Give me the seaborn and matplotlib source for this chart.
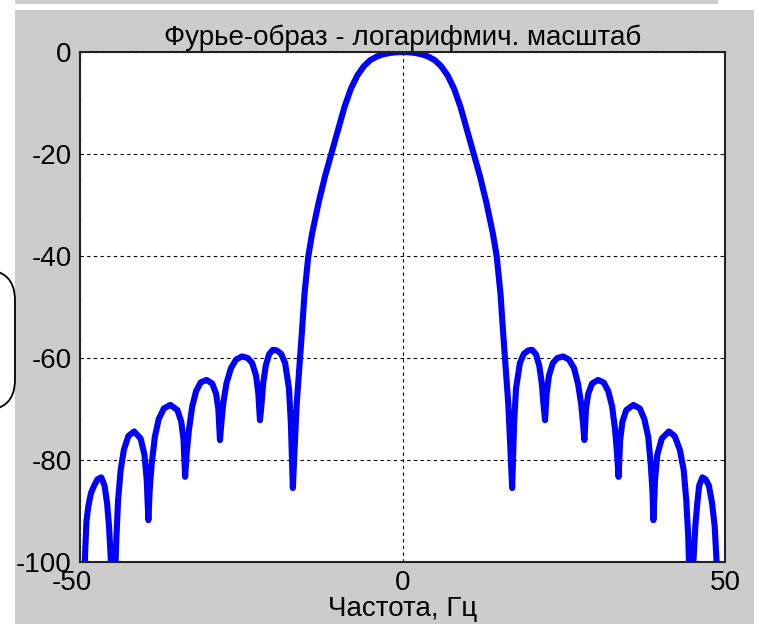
import matplotlib
matplotlib.use("Agg")
import matplotlib.pyplot as plt
import seaborn as sns
import pandas as pd
from matplotlib.patches import Rectangle, FancyBboxPatch
from matplotlib.transforms import ScaledTranslation

# ---- data (frequency in Hz, level in dB) ----
freq_left = [-49.4, -49.2, -49.0, -48.7, -48.3, -47.8, -47.3, -46.7, -46.2, -45.8, -45.5, -45.2,
             -44.7, -44.35, -44.1, -43.7, -43.2, -42.5, -41.6, -40.6, -40.0, -39.65,
             -39.4, -39.2, -38.9, -38.4, -37.8, -37.0, -36.0, -34.9, -34.3, -33.95,
             -33.7, -33.45, -33.1, -32.6, -32.0, -31.3, -30.4, -29.5, -28.9, -28.55,
             -28.3, -28.1, -27.8, -27.3, -26.6, -25.8, -24.9, -24.0, -23.3, -22.7, -22.35,
             -22.1, -21.85, -21.6, -21.2, -20.7, -20.1, -19.5, -18.8, -18.2, -17.6, -17.3,
             -17.0, -16.7, -16.4, -16.0, -15.6, -15.2, -14.6, -14.0, -13.0, -12.0, -11.0,
             -10.0, -9.0, -8.0, -7.0, -6.0, -5.0, -4.0, -3.0, -2.0, -1.0]
level_left = [-108, -98, -92, -89, -86.5, -85, -83.8, -83.4, -85, -88.5, -93, -100,
              -108, -95, -88, -82, -78, -75.3, -74.4, -75.8, -79, -84,
              -91.8, -86, -81, -75.5, -72, -69.9, -69.2, -70.2, -72.5, -76,
              -83.3, -78.5, -74, -69.5, -66.5, -64.8, -64.3, -65, -67, -70,
              -76.1, -73, -69, -65, -62, -60.3, -59.7, -60, -61, -63.5, -67,
              -72.2, -69, -65, -61.5, -59.3, -58.4, -58.5, -59.2, -61, -66, -73,
              -85.5, -77, -69, -62, -55, -47.5, -40, -35.5, -29.5, -24.3, -19.8,
              -15.3, -10.8, -7.2, -4.6, -2.8, -1.6, -0.9, -0.45, -0.2, -0.05]
freq_mid = [0.0]
level_mid = [0.0]
freq_right = [1.0, 2.0, 3.0, 4.0, 5.0, 6.0, 7.0, 8.0, 9.0, 10.0,
              11.0, 12.0, 13.0, 14.0, 14.6, 15.2, 15.6, 16.0, 16.4, 16.7,
              17.0, 17.3, 17.6, 18.2, 18.8, 19.5, 20.1, 20.7, 21.2, 21.6, 21.85,
              22.1, 22.35, 22.7, 23.3, 24.0, 24.9, 25.8, 26.6, 27.2, 27.7, 28.0,
              28.2, 28.45, 28.8, 29.4, 30.3, 31.2, 31.9, 32.5, 32.95, 33.25,
              33.5, 33.75, 34.1, 34.7, 35.8, 36.8, 37.5, 38.1, 38.5, 38.75,
              38.9, 39.15, 39.5, 40.2, 41.3, 42.2, 43.0, 43.6, 44.0, 44.3,
              44.6, 45.1, 45.4, 45.7, 46.0, 46.5, 47.0, 47.5, 48.0, 48.4, 48.7, 48.9]
level_right = [-0.05, -0.2, -0.45, -0.9, -1.6, -2.8, -4.6, -7.2, -10.8, -15.3,
               -19.8, -24.3, -29.5, -35.5, -40, -47.5, -55, -62, -69, -77,
               -85.5, -73, -66, -61, -59.2, -58.5, -58.4, -59.3, -61.5, -65, -69,
               -72.2, -67, -63.5, -61, -60, -59.7, -60.3, -62, -65, -69, -73,
               -76.1, -70, -67, -65, -64.3, -64.8, -66.5, -69.5, -74, -78.5,
               -83.3, -76, -72.5, -70.2, -69.2, -69.9, -72, -75.5, -81, -86,
               -91.8, -84, -79, -75.8, -74.4, -75.3, -78, -82, -88, -95,
               -108, -100, -93, -88.5, -85, -83.4, -83.8, -85, -88.5, -93, -100, -108]

xticks = [-50, 0, 50]
yticks = [-100, -80, -60, -40, -20, 0]

df = pd.DataFrame({"freq": freq_left + freq_mid + freq_right,
                   "level": level_left + level_mid + level_right})

sns.set_theme(style="white")
plt.rcParams["font.family"] = ["Liberation Sans", "DejaVu Sans"]

W, H = 759, 624
fig = plt.figure(figsize=(W / 100, H / 100), dpi=100, facecolor="white")

gray = "#cccccc"
# gray figure panels
fig.patches.append(Rectangle((15 / W, 0), (754 - 15) / W, (H - 10) / H,
                             transform=fig.transFigure, facecolor=gray,
                             edgecolor="none", zorder=-10))
fig.patches.append(Rectangle((15 / W, 1 - 4 / H), (718 - 15) / W, 4 / H,
                             transform=fig.transFigure, facecolor=gray,
                             edgecolor="none", zorder=-10))
# rounded frame peeking in on the left
fig.patches.append(FancyBboxPatch((-60 / W, 1 - 410 / H), 75 / W, 140 / H,
                                  boxstyle="round,pad=0,rounding_size=0.04",
                                  transform=fig.transFigure, facecolor="none",
                                  edgecolor="black", linewidth=1.3, zorder=5,
                                  mutation_aspect=W / H))

ax = fig.add_axes([80 / W, 1 - 562 / H, (725 - 80) / W, (562 - 52) / H])
ax.set_facecolor("white")

sns.lineplot(data=df, x="freq", y="level", ax=ax, color="#0000ff",
             linewidth=4.4, estimator=None, sort=False)

ax.set_xlim(-50, 50)
ax.set_ylim(-100, 0)
ax.set_xticks(xticks)
ax.set_yticks(yticks)
ax.set_xticklabels([str(t) for t in xticks])
ax.set_yticklabels([str(t) for t in yticks])
ax.grid(True, color="black", linestyle=(0, (3, 3)), linewidth=0.8)
ax.tick_params(axis="both", direction="in", length=5, width=1, colors="black",
               labelsize=20, pad=6, labelcolor="black")
for s in ax.spines.values():
    s.set_color("#222222")
    s.set_linewidth(1.5)

# shift first x label slightly left as in the reference
lbl = ax.get_xticklabels()[0]
lbl.set_transform(lbl.get_transform() + ScaledTranslation(-0.08, 0, fig.dpi_scale_trans))

ax.set_title("Фурье-образ - логарифмич. масштаб", fontsize=20, color="black", pad=5)
ax.set_xlabel("Частота, Гц", fontsize=20, color="black", labelpad=0)
ax.set_ylabel("")

fig.savefig("out.png", dpi=100, facecolor="white")
